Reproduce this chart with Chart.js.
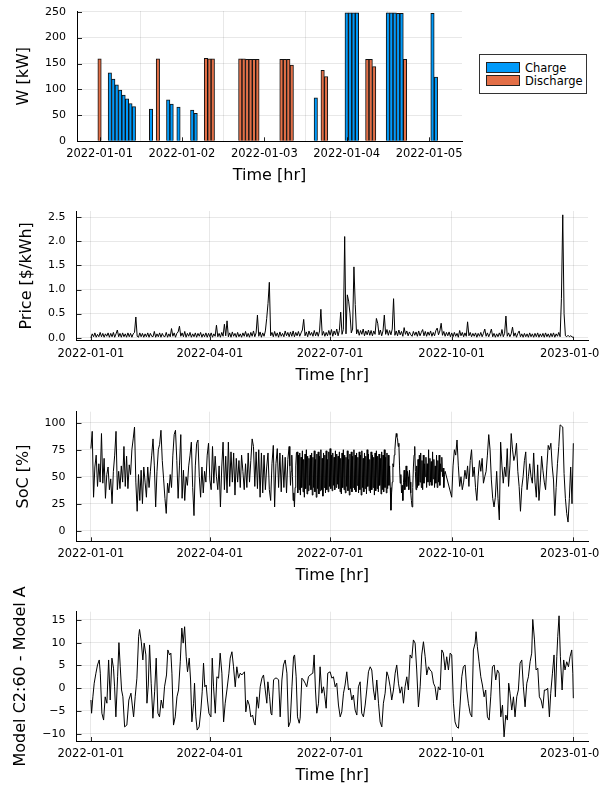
<!doctype html>
<html lang="en">
<head>
<meta charset="utf-8">
<title>Battery dispatch 2022</title>
<script src="https://cdn.jsdelivr.net/npm/chart.js@4.4.1/dist/chart.umd.min.js"></script>
<style>
  body { margin: 0; background: #fff; }
  #wrap { position: relative; width: 600px; height: 800px; overflow: hidden; }
  #wrap canvas { position: absolute; left: 0; }
  #legend {
    position: absolute; left: 479px; top: 54px; width: 108px; height: 40px;
    box-sizing: border-box; border: 1px solid #333; background: #fff;
    font: 11.5px "DejaVu Sans", sans-serif; color: #000;
    padding: 6px 0 0 6px;
  }
  #legend .row { display: flex; align-items: center; height: 13.3px; }
  #legend .sw { width: 34px; height: 11px; box-sizing: border-box; border: 1px solid #222; margin-right: 5px; }
</style>
</head>
<body>
<div id="wrap">
  <canvas id="c_power" width="600" height="230" style="top:-30px"></canvas>
  <canvas id="c_price" width="600" height="230" style="top:170px"></canvas>
  <canvas id="c_soc" width="600" height="230" style="top:370px"></canvas>
  <canvas id="c_diff" width="600" height="230" style="top:570px"></canvas>
  <div id="legend">
    <div class="row"><span class="sw" style="background:#009afa"></span>Charge</div>
    <div class="row"><span class="sw" style="background:#e36f47"></span>Discharge</div>
  </div>
</div>

<script>
// ---- data ----
// first panel: hours since 2022-01-01 00:00, power in kW
var chargeHour = [3, 4, 5, 6, 7, 8, 9, 10, 15, 20, 21, 23, 27, 28, 63,
                  72, 73, 74, 75, 84, 85, 86, 87, 88, 97, 98];
var chargeKW   = [132, 120, 109, 99, 89, 82, 73, 67, 62, 80, 72, 66, 60, 54, 84,
                  248, 248, 248, 248, 248, 248, 248, 247, 247, 247, 124];
var dischargeHour = [0, 17, 31, 32, 33, 41, 42, 43, 44, 45, 46, 53, 54, 55, 56,
                     65, 66, 78, 79, 80, 89];
var dischargeKW   = [159, 159, 160, 159, 159, 159, 159, 158, 158, 158, 158, 158, 158, 158, 147,
                     137, 125, 158, 158, 144, 158];
var hourTicks  = [0, 24, 48, 72, 96];
var hourLabels = ["2022-01-01", "2022-01-02", "2022-01-03", "2022-01-04", "2022-01-05"];

// yearly panels: day of year (0 = 2022-01-01)
var dayTicks  = [0, 90, 181, 273, 365];
var dayLabels = ["2022-01-01", "2022-04-01", "2022-07-01", "2022-10-01", "2023-01-01"];

// price, one value per day, $/kWh
var price = [
  0.00,0.08,0.02,0.10,0.01,0.07,0.02,0.11,0.02,0.09,0.01,0.08,0.03,0.10,0.01,0.09,0.02,0.11,0.01,0.08,0.16,0.02,0.09,0.01,0.10,0.02,0.08,0.01,0.10,0.02,0.09,
  0.01,0.08,0.11,0.43,0.03,0.01,0.10,0.02,0.09,0.01,0.08,0.02,0.10,0.01,0.09,0.03,0.02,0.13,0.01,0.08,0.02,0.10,0.01,0.09,0.03,0.02,0.11,0.01,
  0.08,0.02,0.19,0.03,0.10,0.01,0.09,0.12,0.24,0.03,0.10,0.02,0.13,0.01,0.09,0.03,0.11,0.01,0.08,0.02,0.10,0.01,0.09,0.03,0.11,0.01,0.08,0.02,0.10,0.01,0.09,
  0.02,0.10,0.01,0.08,0.03,0.26,0.02,0.09,0.01,0.11,0.03,0.28,0.04,0.35,0.02,0.10,0.01,0.12,0.03,0.09,0.01,0.11,0.02,0.08,0.01,0.10,0.03,0.13,0.02,0.09,
  0.01,0.11,0.03,0.14,0.02,0.10,0.47,0.03,0.12,0.01,0.10,0.03,0.14,0.40,0.71,1.15,0.04,0.11,0.02,0.13,0.03,0.10,0.01,0.12,0.03,0.09,0.02,0.14,0.04,0.11,0.02,
  0.12,0.03,0.14,0.02,0.11,0.04,0.13,0.03,0.10,0.16,0.38,0.04,0.12,0.02,0.14,0.05,0.11,0.03,0.15,0.04,0.12,0.03,0.14,0.59,0.05,0.13,0.03,0.11,0.04,0.15,
  0.05,0.17,0.03,0.14,0.06,0.18,0.04,0.15,0.53,0.07,0.17,2.10,0.08,0.89,0.76,0.51,0.10,0.18,1.47,0.69,0.08,0.17,0.05,0.15,0.07,0.18,0.04,0.14,0.06,0.16,0.05,
  0.15,0.04,0.14,0.07,0.40,0.30,0.06,0.16,0.04,0.14,0.47,0.07,0.17,0.05,0.15,0.06,0.18,0.81,0.05,0.14,0.04,0.16,0.06,0.13,0.03,0.21,0.07,0.14,0.04,0.12,0.06,
  0.03,0.13,0.05,0.12,0.03,0.14,0.04,0.11,0.17,0.04,0.13,0.03,0.12,0.05,0.14,0.03,0.11,0.04,0.15,0.20,0.06,0.14,0.30,0.05,0.13,0.03,0.11,0.04,0.12,0.02,
  0.10,0.02,0.11,0.03,0.09,0.01,0.15,0.04,0.11,0.02,0.10,0.03,0.33,0.04,0.11,0.02,0.09,0.03,0.10,0.01,0.09,0.03,0.11,0.02,0.09,0.18,0.03,0.10,0.02,0.09,0.18,
  0.02,0.09,0.01,0.08,0.02,0.10,0.03,0.17,0.02,0.09,0.45,0.03,0.10,0.02,0.08,0.22,0.03,0.10,0.01,0.09,0.14,0.02,0.08,0.01,0.09,0.02,0.08,0.01,0.10,0.02,
  0.08,0.01,0.09,0.02,0.10,0.01,0.08,0.02,0.09,0.01,0.10,0.02,0.08,0.01,0.09,0.02,0.10,0.01,0.08,0.03,0.11,0.02,0.82,2.55,0.50,0.04,0.02,0.05,0.02,0.04,0.02,
  0.00
];

// state of charge, %
// days 0..149, one value per day
var socEarly = [
  76,92,31,59,70,41,62,45,90,44,67,30,52,59,38,48,25,55,70,92,
  38,55,39,60,45,78,41,69,39,61,52,75,85,96,45,18,52,28,56,25,
  59,45,31,59,40,55,70,85,60,22,55,75,80,93,65,48,30,16,44,35,
  52,40,70,89,93,65,30,60,89,30,56,28,50,42,60,70,82,40,14,60,
  81,84,50,31,59,35,55,45,70,81,47,38,78,44,69,50,38,60,22,59,
  82,38,69,35,82,41,73,45,72,33,67,45,65,40,70,55,38,62,40,72,
  45,65,85,78,41,73,39,75,31,72,35,70,38,59,72,38,28,62,79,22,
  62,76,40,72,36,70,40,68,35,66
];
// days 150..272, two values per day (summer cycling is dense)
var socSummer = [
  78,60,42,55,70,50,28,35,22,40,60,72,
  73,35,70,38,72,33,68,40,74,36,66,31,71,39,75,34,69,37,67,42,
  70,38,72,33,68,40,74,36,66,31,71,39,73,34,69,37,75,38,67,32,
  72,40,70,35,74,38,66,36,73,41,76,39,70,37,72,42,68,38,74,40,
  71,43,69,39,73,36,67,34,72,40,75,38,70,35,68,41,74,37,66,33,
  71,39,73,36,69,40,75,38,70,36,72,42,68,35,73,38,70,33,74,40,
  67,36,72,39,69,34,75,41,71,37,66,35,73,38,70,40,68,33,72,37,
  74,39,69,36,71,42,67,34,73,38,70,36,75,40,68,35,72,39,70,42,
  60,40,19,35,45,62,59,70,75,84,90,87,85,78,81,60,44,52,35,42,
  28,45,56,38,45,60,41,55,50,38,56,45,35,28,22,40,59,70,78,55,
  38,60,
  40,66,42,70,45,72,40,65,38,70,44,62,50,68,40,62,45,75,42,67,
  45,64,42,73,48,66,40,60,44,70,40,65,45,70,42,62,55,68,50,58,
  40,52,55
];
// days 273..365, one value per day
var socLate = [
  31,60,75,70,84,60,41,50,38,45,56,48,60,41,65,75,50,59,40,28,50,65,55,67,44,50,55,
  70,89,75,47,30,22,31,55,30,10,82,60,44,59,50,76,41,60,90,75,65,70,81,55,41,
  18,40,50,65,73,38,50,62,50,44,72,45,31,61,28,45,69,56,45,38,60,79,75,81,60,
  47,14,40,62,78,98,97,96,53,30,16,8,30,59,25,81
];

// difference between the two models, sampled by day of year
var diffDay = [
  0,0.5,1.5,2.5,3.8,5.0,6.3,7.1,8.3,9.6,10.8,12.1,13.4,14.6,15.9,17.1,17.9,18.9,20.2,21.2,
  22.2,23.2,24.2,25.5,27.2,28.7,30.3,31.3,32.3,33.5,34.8,36.1,36.8,38.1,39.3,40.3,41.6,42.4,43.4,44.4,
  45.6,46.9,48.2,49.4,50.7,51.9,53.2,54.5,55.7,57.2,58.2,59.5,60.5,61.3,62.5,63.8,65.1,66.3,67.6,68.8,
  69.8,70.9,72.1,73.1,74.4,75.4,76.4,77.7,78.4,79.4,80.4,81.9,83.2,84.2,85.2,86.2,87.2,88.2,89.3,90.8,
  91.8,92.8,94.1,95.3,96.6,97.8,99.1,100.4,101.6,102.9,104.4,105.4,106.7,107.9,109.2,110.4,111.7,113.0,114.2,116.2,
  117.2,118.5,119.8,121.0,122.3,123.6,124.3,125.6,126.8,128.1,129.4,130.6,131.9,133.1,133.9,135.2,136.2,136.9,138.2,139.4,
  140.7,142.0,143.2,144.5,145.7,147.0,148.3,149.5,150.8,152.1,153.3,154.1,155.3,156.3,157.6,
  158.3,159.6,160.8,162.1,163.3,164.6,165.9,167.9,168.9,169.9,170.9,172.2,173.4,174.7,176.0,177.0,178.0,179.2,181.0,182.3,
  183.5,184.8,186.0,187.3,188.6,189.8,191.1,192.3,193.6,194.9,196.1,197.4,198.6,199.9,201.2,202.4,203.7,204.9,206.2,207.5,
  208.7,210.0,211.3,212.5,213.8,215.0,216.3,217.6,218.8,220.1,221.3,222.6,223.9,225.1,226.4,227.6,228.9,230.2,231.4,232.7,
  233.9,235.2,236.5,237.7,239.0,240.2,241.5,242.8,244.0,245.3,246.5,247.8,249.1,250.3,251.6,252.9,254.1,255.4,256.6,257.9,
  259.2,260.4,261.7,262.9,264.2,265.5,266.7,268.0,269.2,270.5,271.8,273.0,274.3,275.5,276.8,278.1,279.3,280.6,281.8,283.1,
  284.4,285.6,286.9,288.2,289.4,290.7,291.4,292.4,293.7,295.0,296.2,297.5,298.7,300.0,301.3,302.5,303.8,305.1,306.3,307.6,
  308.8,310.1,311.4,312.6,313.9,315.1,316.1,317.1,318.4,319.7,320.9,322.2,323.4,324.7,326.0,327.2,328.5,329.8,331.0,332.3,
  333.5,334.3,335.6,336.8,338.1,339.3,340.6,341.9,343.1,344.4,345.6,346.9,347.9,349.2,350.4,351.4,352.5,353.2,354.2,355.2,
  356.5,357.7,358.7,360.0,361.3,362.5,363.8,364.6,365.0
];
var diffVal = [
  -2.6,-5.5,-1.9,1.1,3.3,5.1,6.2,3.3,-5.5,-7.0,-1.9,-3.3,6.2,-2.6,6.6,4.4,0.3,-6.3,2.5,10.0,
  4.7,-0.4,-1.9,-8.5,-8.1,-2.6,-1.1,-3.7,-6.3,-1.9,2.2,11.3,12.9,10.2,6.2,9.9,7.3,-3.3,0.7,9.5,
  1.1,-6.6,-0.8,6.6,-5.5,-6.3,-2.6,-4.4,0.3,2.9,8.4,7.3,7.7,3.3,-8.1,-6.3,-1.9,-0.4,5.8,13.2,
  9.9,13.5,6.9,3.6,6.6,1.8,-7.4,-3.3,1.1,-6.3,-9.2,-8.5,-4.8,-0.8,5.5,0.3,0.7,-2.6,-5.5,-6.3,
  6.6,0.3,-5.5,2.5,2.2,7.7,3.3,-7.4,-3.3,-0.4,3.3,6.6,8.0,4.7,0.3,4.7,2.2,3.3,2.9,3.6,
  -5.2,-2.6,-3.7,-6.3,-5.9,-7.7,-8.1,-1.9,-4.4,0.3,2.2,2.9,-0.4,-3.3,1.4,-1.9,-5.5,-5.9,1.8,2.2,
  2.2,1.8,-6.3,1.8,5.1,6.2,3.3,-8.5,-7.4,0.3,6.9,7.3,2.5,-6.3,-7.7,
  -6.6,2.2,1.8,1.1,0.3,2.5,2.9,3.3,7.3,-0.4,-5.5,-3.3,4.7,-1.1,0.3,-1.9,-4.4,3.3,3.6,2.2,
  2.5,0.3,1.1,-3.7,-6.3,-5.2,-1.1,0.7,3.6,-0.4,0,-2.6,-1.5,-4.8,-5.9,0.3,1.4,-5.5,-6.3,-3.7,
  -0.4,3.6,4.7,4.0,-0.4,-2.6,1.8,-3.3,-7.4,-8.5,-3.3,-1.1,3.6,2.5,0.3,-2.6,-0.4,3.3,5.1,1.1,
  -1.1,0.3,-3.3,0.3,2.5,-0.4,7.3,6.6,10.6,9.9,4.0,-4.1,0.3,7.3,10.2,6.9,2.9,4.7,4.0,3.6,
  1.1,0.3,-2.6,0.3,-0.4,8.4,7.7,4.0,6.9,4.0,7.7,7.3,-3.3,-7.4,-8.5,-8.8,-3.7,2.5,4.7,5.1,
  -0.4,-3.3,-5.5,-6.3,8.4,9.9,12.4,9.1,5.8,2.5,0.7,-1.9,-0.4,-6.3,-7.0,-1.9,4.7,5.1,1.8,4.0,
  3.3,-6.3,-3.7,-10.7,-5.9,-7.0,1.1,-1.1,-4.8,-1.9,-6.3,-1.9,-0.4,5.5,6.2,0.3,-4.1,1.1,2.5,5.8,
  7.7,15.1,10.6,4.0,4.4,-1.9,-2.6,-4.4,-0.4,-0.4,0,-6.3,-1.1,3.3,7.3,-1.9,6.9,11.3,15.9,6.9,
  -0.4,6.2,4.0,5.8,4.7,6.9,8.4,3.3,-2.2
];

// ---- shared styling ----
var FONT = "DejaVu Sans";
var GRID = "rgba(0,0,0,0.09)";
var H = 230;

// Plots-style short tick marks drawn inside the frame
var innerTicks = {
  id: "innerTicks",
  afterDraw: function (chart) {
    var ctx = chart.ctx, a = chart.chartArea, x = chart.scales.x, y = chart.scales.y;
    ctx.save();
    ctx.strokeStyle = "rgba(0,0,0,0.85)";
    ctx.lineWidth = 1;
    ctx.beginPath();
    x.ticks.forEach(function (t) {
      var p = Math.round(x.getPixelForValue(t.value)) + 0.5;
      ctx.moveTo(p, a.bottom); ctx.lineTo(p, a.bottom - 4);
    });
    y.ticks.forEach(function (t) {
      var p = Math.round(y.getPixelForValue(t.value)) + 0.5;
      ctx.moveTo(a.left, p); ctx.lineTo(a.left + 5, p);
    });
    ctx.stroke();
    ctx.restore();
  }
};

function xAxis(min, max, ticks, labels, boxHeight) {
  return {
    type: "linear", min: min, max: max, offset: false,
    afterBuildTicks: function (s) { s.ticks = ticks.map(function (v) { return {value: v}; }); },
    afterFit: function (s) { s.height = boxHeight; s.paddingLeft = 0; s.paddingRight = 0; },
    ticks: {
      autoSkip: false, maxRotation: 0, minRotation: 0, padding: 6, color: "#000",
      font: {family: FONT, size: 11.5},
      callback: function (v) { return labels[ticks.indexOf(v)]; }
    },
    grid: {color: GRID, drawTicks: false},
    border: {color: "#000", width: 1},
    title: {display: true, text: "Time [hr]", color: "#000",
            font: {family: FONT, size: 16}, padding: {top: 0, bottom: 15}}
  };
}

function yAxis(min, max, ticks, fmt, text, titlePad, boxWidth) {
  return {
    min: min, max: max,
    afterBuildTicks: function (s) { s.ticks = ticks.map(function (v) { return {value: v}; }); },
    afterFit: function (s) { s.width = boxWidth; s.paddingTop = 0; s.paddingBottom = 0; },
    ticks: {padding: 11, color: "#000", font: {family: FONT, size: 11}, callback: fmt},
    grid: {color: GRID, drawTicks: false},
    border: {color: "#000", width: 1},
    title: {display: true, text: text, color: "#000",
            font: {family: FONT, size: 16}, padding: {top: titlePad, bottom: 0}}
  };
}

function baseOptions(area, xs, ys) {
  return {
    responsive: false, animation: false,
    layout: {padding: {left: 0, top: area.top, right: 600 - area.right, bottom: 0}},
    plugins: {legend: {display: false}, tooltip: {enabled: false}},
    scales: {x: xs, y: ys}
  };
}

function intLabel(v) { return String(v).replace("-", "\u2212"); }

// ---- panel 1: charge / discharge bars ----
new Chart("c_power", {
  type: "bar",
  data: {
    datasets: [
      {label: "Charge", data: chargeHour.map(function (h, i) { return {x: h, y: chargeKW[i]}; }),
       backgroundColor: "#009afa", borderColor: "#111", borderWidth: 1,
       grouped: false, barPercentage: 1, categoryPercentage: 1},
      {label: "Discharge", data: dischargeHour.map(function (h, i) { return {x: h, y: dischargeKW[i]}; }),
       backgroundColor: "#e36f47", borderColor: "#111", borderWidth: 1,
       grouped: false, barPercentage: 1, categoryPercentage: 1}
    ]
  },
  options: baseOptions({top: 41, right: 462},
    xAxis(-6.57, 105.6, hourTicks, hourLabels, H - 171.3),
    yAxis(0, 251.35, [0, 50, 100, 150, 200, 250], intLabel, "W [kW]", 14.4, 77)),
  plugins: [innerTicks]
});

function lineSet(points) {
  return {data: points, borderColor: "#000", borderWidth: 1, pointRadius: 0,
          tension: 0, fill: false};
}

// ---- panel 2: price ----
new Chart("c_price", {
  type: "line",
  data: {datasets: [lineSet(price.map(function (v, i) { return {x: i, y: v}; }))]},
  options: baseOptions({top: 41, right: 588},
    xAxis(-10.9, 376.1, dayTicks, dayLabels, H - 170.7),
    yAxis(-0.062, 2.63, [0, 0.5, 1, 1.5, 2, 2.5], function (v) { return v.toFixed(1); },
          "Price [$/kWh]", 17.1, 76.5)),
  plugins: [innerTicks]
});

// ---- panel 3: state of charge ----
var socPoints = socEarly.map(function (v, i) { return {x: i, y: v}; })
  .concat(socSummer.map(function (v, i) { return {x: 150 + i / 2, y: v}; }))
  .concat(socLate.map(function (v, i) { return {x: 273 + i, y: v}; }));
new Chart("c_soc", {
  type: "line",
  data: {datasets: [lineSet(socPoints)]},
  options: baseOptions({top: 41.7, right: 588},
    xAxis(-10.9, 376.1, dayTicks, dayLabels, H - 171.3),
    yAxis(-9.8, 110.2, [0, 25, 50, 75, 100], intLabel, "SoC [%]", 14.4, 76.5)),
  plugins: [innerTicks]
});

// ---- panel 4: model difference ----
new Chart("c_diff", {
  type: "line",
  data: {datasets: [lineSet(diffDay.map(function (d, i) { return {x: d, y: diffVal[i]}; }))]},
  options: baseOptions({top: 41.7, right: 588},
    xAxis(-10.9, 376.1, dayTicks, dayLabels, H - 171),
    yAxis(-11.6, 16.8, [-10, -5, 0, 5, 10, 15], intLabel, "Model C2:60 - Model A", 11.4, 76.5)),
  plugins: [innerTicks]
});
</script>
</body>
</html>
